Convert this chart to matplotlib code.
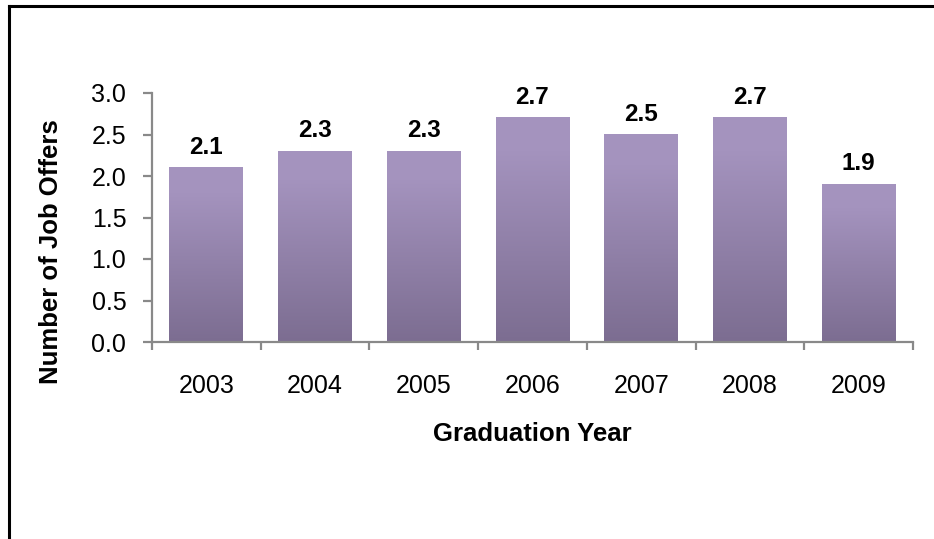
import numpy as np
import matplotlib
matplotlib.use("Agg")
import matplotlib.pyplot as plt
from matplotlib.colors import LinearSegmentedColormap
from matplotlib.lines import Line2D

years = ["2003", "2004", "2005", "2006", "2007", "2008", "2009"]
offers = [2.1, 2.3, 2.3, 2.7, 2.5, 2.7, 1.9]

plt.rcParams['font.family'] = ['Liberation Sans', 'DejaVu Sans']

fig = plt.figure(figsize=(9.34, 5.39), dpi=100)
ax = fig.add_axes([152/934, 1 - 342/539, 761/934, 249/539])

xpos = np.arange(len(years))
bars = ax.bar(xpos, offers, width=0.68, color='none', edgecolor='none')

# vertical gradient, dark at the bottom, light at the top
cmap = LinearSegmentedColormap.from_list(
    "purp", [(0, "#7C6D91"), (0.85, "#A493BE"), (1, "#A594BF")])
grad = np.linspace(0, 1, 256).reshape(-1, 1)
for bar in bars:
    x0 = bar.get_x()
    ax.imshow(grad, extent=[x0, x0 + bar.get_width(), 0, bar.get_height()],
              origin='lower', aspect='auto', cmap=cmap, zorder=2)

for x, v in zip(xpos, offers):
    ax.annotate(f"{v:.1f}", (x, v), xytext=(0, 10), textcoords="offset points",
                ha='center', va='baseline', fontsize=17.5, fontweight='bold')

ax.set_xlim(-0.5, len(years) - 0.5)
ax.set_ylim(0, 3.0)
ax.set_yticks(np.arange(0, 3.01, 0.5))
ax.set_yticklabels([f"{t:.1f}" for t in np.arange(0, 3.01, 0.5)])
ax.set_xticks(xpos)
ax.set_xticklabels(years)
ax.set_xticks(np.arange(-0.5, len(years)), minor=True)

gray = "#898989"
for side in ['top', 'right']:
    ax.spines[side].set_visible(False)
for side in ['left', 'bottom']:
    ax.spines[side].set_color(gray)
    ax.spines[side].set_linewidth(1.6)

ax.tick_params(axis='y', length=6.5, width=1.6, color=gray, pad=12, labelsize=18)
ax.tick_params(axis='x', which='major', length=0, pad=23, labelsize=18)
ax.tick_params(axis='x', which='minor', length=5.5, width=1.6, color=gray)

fig.text(51/934, 1 - 252/539, "Number of Job Offers", rotation=90,
         ha='center', va='center', fontsize=18.5, fontweight='bold')
fig.text(532/934, 1 - 434/539, "Graduation Year",
         ha='center', va='center', fontsize=18.5, fontweight='bold')

# outer frame (only top and left edges fall inside the picture)
fig.add_artist(Line2D([9/934, 9/934], [0, 1 - 6/539], color='black', lw=2.2,
                      transform=fig.transFigure))
fig.add_artist(Line2D([9/934, 1], [1 - 6/539, 1 - 6/539], color='black', lw=2.2,
                      transform=fig.transFigure))

fig.savefig("out.png", dpi=100)
